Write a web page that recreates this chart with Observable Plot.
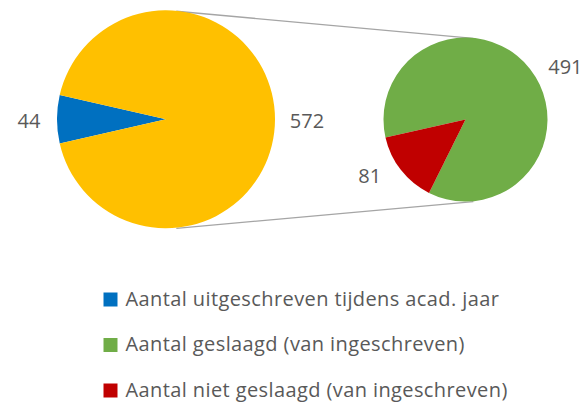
<!DOCTYPE html>
<html>
<head>
<meta charset="utf-8">
<script src="https://cdn.jsdelivr.net/npm/d3@7"></script>
<script src="https://cdn.jsdelivr.net/npm/@observablehq/plot@0.6"></script>
<style>
  html, body { margin: 0; padding: 0; background: #ffffff; }
  #chart { width: 587px; height: 407px; }
</style>
</head>
<body>
<div id="chart"></div>
<script>
// ---- data ----
const mainCategories = ["Aantal uitgeschreven tijdens acad. jaar", "Aantal ingeschreven"];
const mainValues = [44, 572];
const subCategories = ["Aantal geslaagd (van ingeschreven)", "Aantal niet geslaagd (van ingeschreven)"];
const subValues = [491, 81];
const legendLabels = [
  "Aantal uitgeschreven tijdens acad. jaar",
  "Aantal geslaagd (van ingeschreven)",
  "Aantal niet geslaagd (van ingeschreven)"
];

// ---- styling / layout ----
const W = 587, H = 407;
const colorDomain = [...mainCategories, ...subCategories];
const colorRange = ["#0070C0", "#FFC000", "#70AD47", "#C00000"];
const textColor = "#595959";
const fontFamily = "'Open Sans', Lato, sans-serif";
const deg = Math.PI / 180;

const mainPie = {cx: 166, cy: 119.3, r: 109};
const subPie = {cx: 465.5, cy: 119.5, r: 82};

// main pie: first slice (blue) centred on the left (270°)
const mainTotal = d3.sum(mainValues);
const blueSpan = 2 * Math.PI * mainValues[0] / mainTotal;
mainPie.start = 270 * deg - blueSpan / 2;
mainPie.data = mainCategories.map((c, i) => ({category: c, value: mainValues[i]}));
mainPie.labelTurn = 0;
mainPie.pad = 30;

// secondary pie: red slice centred at ~232°
const subTotal = d3.sum(subValues);
const redSpan = 2 * Math.PI * subValues[1] / subTotal;
subPie.start = 231.9 * deg + redSpan / 2;
subPie.data = subCategories.map((c, i) => ({category: c, value: subValues[i]}));
subPie.labelTurn = 9 * deg;
subPie.pad = 30;

function arcsOf(p) {
  return d3.pie().sort(null).value(d => d.value)
    .startAngle(p.start).endAngle(p.start + 2 * Math.PI)(p.data);
}

function pieMark(p) {
  return (index, scales) => {
    const color = scales.color || (c => colorRange[colorDomain.indexOf(c)]);
    const cx = scales.x(p.cx), cy = scales.y(p.cy);
    const r = scales.x(p.cx + p.r) - scales.x(p.cx);
    const arc = d3.arc().innerRadius(0).outerRadius(r);
    const g = d3.create("svg:g").attr("transform", `translate(${cx},${cy})`);
    g.selectAll("path").data(arcsOf(p)).join("path")
      .attr("d", arc)
      .attr("fill", d => color(d.data.category));
    return g.node();
  };
}

function labelsOf(p) {
  return arcsOf(p).map(a => {
    const m = (a.startAngle + a.endAngle) / 2 + p.labelTurn;
    const d = p.r + p.pad;
    return {x: p.cx + d * Math.sin(m), y: p.cy - d * Math.cos(m), text: String(a.data.value)};
  });
}
const valueLabels = [...labelsOf(mainPie), ...labelsOf(subPie)];

// external tangent connector lines between the two pies
const dist = subPie.cx - mainPie.cx;
const alpha = Math.asin((mainPie.r - subPie.r) / dist);
const connectors = [-1, 1].map(s => ({
  x1: mainPie.cx + mainPie.r * Math.sin(alpha), y1: mainPie.cy + s * mainPie.r * Math.cos(alpha),
  x2: subPie.cx + subPie.r * Math.sin(alpha), y2: subPie.cy + s * subPie.r * Math.cos(alpha)
}));

// legend rows
const legendX = 110, legendTextX = 125, legendTop = 299, legendStep = 45.5;
const legendRows = legendLabels.map((l, i) => ({label: l, x: legendX, tx: legendTextX, y: legendTop + i * legendStep}));

const chart = Plot.plot({
  width: W,
  height: H,
  margin: 0,
  x: {domain: [0, W], range: [0, W], axis: null},
  y: {domain: [0, H], range: [0, H], axis: null},
  color: {type: "ordinal", domain: colorDomain, range: colorRange},
  style: {fontFamily, background: "#ffffff"},
  marks: [
    Plot.link(connectors, {x1: "x1", y1: "y1", x2: "x2", y2: "y2", stroke: "#A5A5A5", strokeWidth: 1.3}),
    pieMark(mainPie),
    pieMark(subPie),
    Plot.text(valueLabels, {x: "x", y: "y", text: "text", fill: textColor, fontSize: 20, dy: 2, dx: 1.5, textAnchor: "middle"}),
    Plot.dot(legendRows, {x: "x", y: "y", symbol: "square", r: 7.9, fill: "label", stroke: null}),
    Plot.text(legendRows, {x: "tx", y: "y", text: "label", fill: textColor, fontSize: 20, textAnchor: "start", dy: 0})
  ]
});
chart.querySelectorAll("text").forEach(t => {
  if (legendLabels.includes(t.textContent)) t.setAttribute("letter-spacing", "0.4");
});
document.getElementById("chart").appendChild(chart);
</script>
</body>
</html>
